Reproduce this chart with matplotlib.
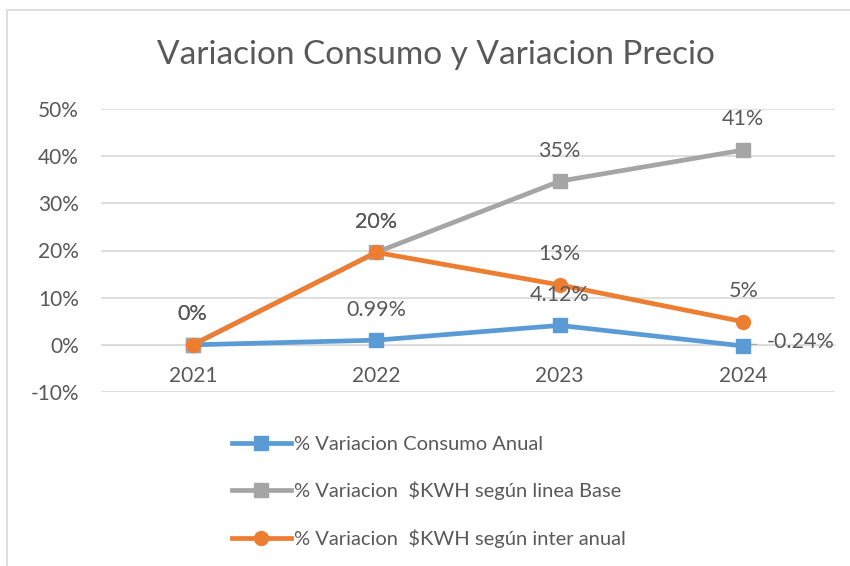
import matplotlib.pyplot as plt
from matplotlib.patches import Rectangle

plt.rcParams['font.family'] = ['Lato', 'DejaVu Sans']

# datos
years = ['2021', '2022', '2023', '2024']
consumo = [0.0, 0.0099, 0.0412, -0.0024]
kwh_base = [0.0, 0.196, 0.347, 0.413]
kwh_inter = [0.0, 0.196, 0.127, 0.049]

names = ['% Variacion Consumo Anual',
         '% Variacion  $KWH según linea Base',
         '% Variacion  $KWH según inter anual']
blue, gray, orange = '#5B9BD5', '#A5A5A5', '#ED7D31'
txt = '#595959'
grid = '#D9D9D9'

fig = plt.figure(figsize=(8.5, 5.66), dpi=100)
ax = fig.add_axes([101/850, 1-392/566, 734/850, 283/566])

# marco del area del grafico
fig.patches.append(Rectangle((7/850, -0.1), 1.0, 1-10/566+0.1, transform=fig.transFigure,
                             fill=False, edgecolor='#D9D9D9', linewidth=1.2))

x = range(len(years))
ax.plot(x, consumo, color=blue, lw=3.4, marker='s', ms=10, label=names[0], zorder=3)
ax.plot(x, kwh_base, color=gray, lw=3.4, marker='s', ms=10, label=names[1], zorder=4)
ax.plot(x, kwh_inter, color=orange, lw=3.4, marker='o', ms=10, label=names[2], zorder=5)

# etiquetas de datos
def lab(i, v, s, dx=0, dy=22, ha='center'):
    ax.annotate(s, xy=(i, v), xytext=(dx, dy), textcoords='offset points',
                ha=ha, va='center', fontsize=15.5, color=txt, zorder=6)

for i in range(4):
    lab(i, kwh_base[i], '{:.0%}'.format(kwh_base[i]))
    lab(i, kwh_inter[i], '{:.0%}'.format(kwh_inter[i]))
for i in (1, 2):
    lab(i, consumo[i], '{:.2%}'.format(consumo[i]))
lab(3, consumo[3], '{:.2%}'.format(consumo[3]), dx=17, dy=3, ha='left')
ax.plot([3.03, 3.07], [consumo[3] + 0.004, consumo[3] + 0.004], color=gray, lw=1, zorder=2)

ax.set_xlim(-0.5, 3.5)
ax.set_ylim(-0.10, 0.50)
ax.set_yticks([-0.1, 0, 0.1, 0.2, 0.3, 0.4, 0.5])
ax.set_yticklabels(['-10%', '0%', '10%', '20%', '30%', '40%', '50%'])
ax.set_xticks(list(x))
ax.set_xticklabels(years)
ax.yaxis.grid(True, color=grid, lw=1.2)
ax.set_axisbelow(True)
for s in ['top', 'right', 'left']:
    ax.spines[s].set_visible(False)
ax.spines['bottom'].set_position(('data', 0))
ax.spines['bottom'].set_color(grid)
ax.tick_params(axis='both', length=0, labelsize=15, labelcolor=txt)
ax.tick_params(axis='x', pad=15)
ax.tick_params(axis='y', pad=16)

fig.text(0.513, 1-55/566, 'Variacion Consumo y Variacion Precio', ha='center', va='center',
         fontsize=24, color=txt)

fig.legend(loc='upper left', bbox_to_anchor=(214/850, 1-418/566), frameon=False,
           fontsize=14.5, labelcolor=txt, handlelength=2.9, handletextpad=0.15,
           labelspacing=1.4)

fig.savefig('out.png', dpi=100)
